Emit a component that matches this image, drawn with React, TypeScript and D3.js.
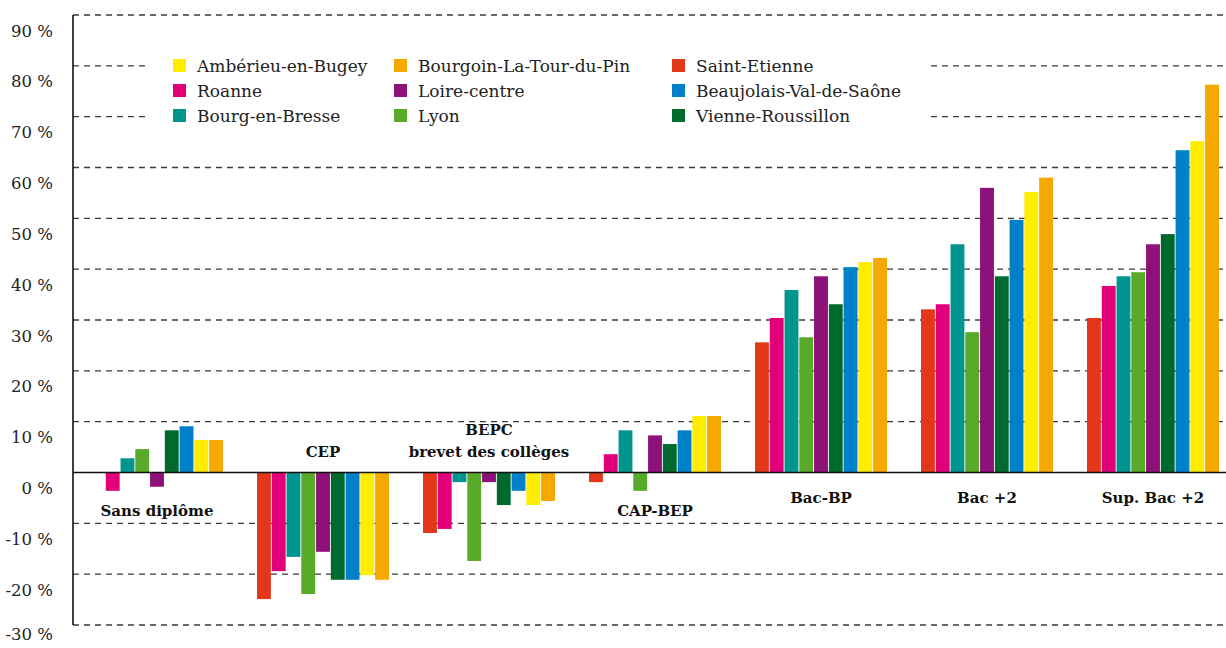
import React from "react";
import * as d3 from "d3";

const categories = ["Sans diplôme", "CEP", "BEPC\nbrevet des collèges", "CAP-BEP", "Bac-BP", "Bac +2", "Sup. Bac +2"];

// bar order within each group
const seriesNames = [
  "Saint-Etienne",
  "Roanne",
  "Bourg-en-Bresse",
  "Lyon",
  "Loire-centre",
  "Vienne-Roussillon",
  "Beaujolais-Val-de-Saône",
  "Ambérieu-en-Bugey",
  "Bourgoin-La-Tour-du-Pin",
];

const seriesColors = ["#E3371A", "#E2007A", "#00968F", "#5AAA2A", "#8E1179", "#006A2E", "#0080C8", "#FFEC00", "#F5A800"];

// values per series, in category order (%)
const saintEtienne = [0, -24.9, -11.9, -1.9, 25.6, 32.1, 30.4];
const roanne = [-3.6, -19.4, -11.1, 3.6, 30.4, 33.1, 36.7];
const bourgEnBresse = [2.8, -16.6, -1.9, 8.3, 35.9, 44.9, 38.6];
const lyon = [4.6, -23.9, -17.4, -3.6, 26.6, 27.6, 39.4];
const loireCentre = [-2.8, -15.6, -1.9, 7.3, 38.6, 56.0, 44.9];
const vienneRoussillon = [8.3, -21.1, -6.4, 5.6, 33.1, 38.6, 46.9];
const beaujolais = [9.1, -21.1, -3.6, 8.3, 40.4, 49.7, 63.4];
const amberieu = [6.4, -20.2, -6.4, 11.1, 41.4, 55.2, 65.2];
const bourgoin = [6.4, -21.1, -5.6, 11.1, 42.2, 58.0, 76.3];

const seriesValues = [saintEtienne, roanne, bourgEnBresse, lyon, loireCentre, vienneRoussillon, beaujolais, amberieu, bourgoin];

// legend layout order (row-major, 3 columns)
const legendOrder = [
  "Ambérieu-en-Bugey", "Bourgoin-La-Tour-du-Pin", "Saint-Etienne",
  "Roanne", "Loire-centre", "Beaujolais-Val-de-Saône",
  "Bourg-en-Bresse", "Lyon", "Vienne-Roussillon",
];

const yTicks = [-30, -20, -10, 0, 10, 20, 30, 40, 50, 60, 70, 80, 90];

const W = 1226;
const H = 648;
const FONT = "'DejaVu Serif', serif";

export default function App() {
  const axisX = 73;
  const y = d3.scaleLinear().domain([-30, 90]).range([625, 15]);
  const x = d3.scaleBand<string>().domain(categories).range([91, 1219]).paddingInner(34 / 166).paddingOuter(0);
  const xi = d3.scaleBand<string>().domain(seriesNames).range([0, x.bandwidth()]).paddingInner(0.06);

  const legendColX = [173, 394, 672];
  const legendRowY = [65.5, 90.5, 115.5];

  return (
    <svg width={W} height={H} style={{ position: "absolute", left: 0, top: 0, background: "#fff" }} fontFamily={FONT}>
      {/* gridlines */}
      {yTicks.filter((t) => t !== 0).map((t) => (
        <line key={"g" + t} x1={axisX} x2={W} y1={y(t)} y2={y(t)} stroke="#3a3a3a" strokeWidth={1.3} strokeDasharray="6,5" />
      ))}
      {/* tick labels */}
      {yTicks.map((t) => (
        <text key={"t" + t} x={53} y={Math.min(y(t) + 21.5, H - 8)} textAnchor="end" fontSize={16.5} fill="#222">
          {t} %
        </text>
      ))}
      {/* legend background */}
      <rect x={147} y={45} width={928 - 147} height={88} fill="#fff" />
      {/* bars */}
      {categories.map((c, ci) => (
        <g key={c} transform={`translate(${x(c)},0)`}>
          {seriesNames.map((s, si) => {
            const v = seriesValues[si][ci];
            if (v === 0) return null;
            const y0 = y(0);
            const y1 = y(v);
            return (
              <rect key={s} x={xi(s)} width={xi.bandwidth()} y={Math.min(y0, y1)} height={Math.abs(y1 - y0)} fill={seriesColors[si]} />
            );
          })}
        </g>
      ))}
      {/* zero line and axis */}
      <line x1={axisX} x2={W} y1={y(0)} y2={y(0)} stroke="#111" strokeWidth={1.6} />
      <line x1={axisX} x2={axisX} y1={y(90)} y2={y(-30)} stroke="#111" strokeWidth={1.6} />
      {/* category labels */}
      {categories.map((c, ci) => {
        const vals = seriesValues.map((sv) => sv[ci]);
        const mn = d3.min(vals) as number;
        const lines = c.split("\n");
        const cx = (x(c) as number) + x.bandwidth() / 2;
        if (mn < -5) {
          const base = y(0) - 16;
          return (
            <text key={"l" + c} textAnchor="middle" fontSize={15} fontWeight="bold" fill="#111">
              {lines.map((ln, li) => (
                <tspan key={li} x={cx} y={base - (lines.length - 1 - li) * 22}>{ln}</tspan>
              ))}
            </text>
          );
        }
        const base = Math.max(y(0) + 30, y(Math.min(0, mn)) + 25);
        return (
          <text key={"l" + c} x={cx} y={base} textAnchor="middle" fontSize={15} fontWeight="bold" fill="#111">
            {c}
          </text>
        );
      })}
      {/* legend */}
      {legendOrder.map((name, i) => {
        const col = i % 3;
        const row = Math.floor(i / 3);
        const si = seriesNames.indexOf(name);
        const lx = legendColX[col];
        const ly = legendRowY[row];
        return (
          <g key={"lg" + name}>
            <rect x={lx} y={ly - 6.5} width={13} height={13} fill={seriesColors[si]} />
            <text x={lx + 24} y={ly + 6} fontSize={17} fill="#222">{name}</text>
          </g>
        );
      })}
    </svg>
  );
}
